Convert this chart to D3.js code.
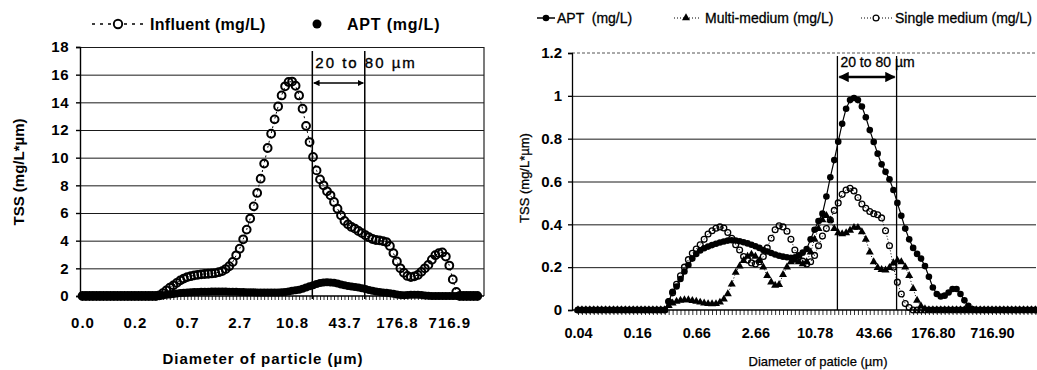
<!DOCTYPE html>
<html>
<head>
<meta charset="utf-8">
<script src="https://cdn.jsdelivr.net/npm/d3@7"></script>
<style>
  body { margin: 0; background: #fff; }
  svg { display: block; font-family: "Liberation Sans", Arial, sans-serif; }
</style>
</head>
<body>
<svg id="chart" width="1037" height="370"></svg>
<script>
// analyser size classes (um)
const diameters = [
  0.0401, 0.0440, 0.0483, 0.0530, 0.0582, 0.0639, 0.0701, 0.0770, 0.0845, 0.0928, 0.1018, 0.1118, 0.1227, 0.1347, 0.1479,
  0.1623, 0.1782, 0.1956, 0.2147, 0.2357, 0.2587, 0.2840, 0.3117, 0.3422, 0.3756, 0.4124, 0.4527, 0.4969, 0.5455, 0.5988,
  0.6573, 0.7215, 0.7920, 0.8695, 0.9544, 1.0477, 1.1501, 1.2625, 1.3859, 1.5213, 1.6700, 1.8332, 2.0123, 2.2090, 2.4249,
  2.6619, 2.9220, 3.2076, 3.5211, 3.8652, 4.2430, 4.6576, 5.1128, 5.6125, 6.1610, 6.7631, 7.4241, 8.1497, 8.9461, 9.8204,
  10.78, 11.834, 12.990, 14.260, 15.653, 17.183, 18.862, 20.706, 22.729, 24.951, 27.389, 30.066, 33.004, 36.229, 39.770,
  43.657, 47.923, 52.607, 57.749, 63.392, 69.587, 76.388, 83.853, 92.048, 101.04, 110.92, 121.76, 133.66, 146.72, 161.06,
  176.80, 194.08, 213.05, 233.87, 256.72, 281.81, 309.35, 339.59, 372.78, 409.21, 449.20, 493.10, 541.29, 594.19, 652.26,
  716.0, 786.0, 862.8, 947.1, 1039.7, 1141.3, 1252.8, 1375.3, 1509.7, 1657.2, 1819.2, 1997.0
];
const tickIndex = [0, 15, 30, 45, 60, 75, 90, 105];
const leftTickLabels = ['0.0', '0.2', '0.7', '2.7', '10.8', '43.7', '176.8', '716.9'];
const rightTickLabels = ['0.04', '0.16', '0.66', '2.66', '10.78', '43.66', '176.80', '716.90'];
const leftYTicks = [0, 2, 4, 6, 8, 10, 12, 14, 16, 18];
const rightYTicks = [0, 0.2, 0.4, 0.6, 0.8, 1, 1.2];
const rightYLabels = ['0', '0.2', '0.4', '0.6', '0.8', '1', '1.2'];
const bandLimits = [18.5, 75]; // the "20 to 80 um" lines

// left chart, influent (mg/L*um), 114 classes
const influent = [
  0, 0, 0, 0, 0, 0, 0, 0, 0, 0, 0, 0, 0, 0, 0, 0, 0, 0, 0, 0, 0, 0,
  0.05, 0.2, 0.4, 0.6, 0.77, 0.95, 1.13, 1.26, 1.37, 1.43, 1.49, 1.53, 1.57, 1.59, 1.61, 1.63, 1.66, 1.72, 1.8,
  1.95, 2.15, 2.46, 2.94, 3.42, 4.1, 4.8, 5.6, 6.48, 7.45, 8.48, 9.57, 10.7, 11.73, 12.77, 13.7, 14.5, 15.16, 15.47,
  15.5, 15.2, 14.5, 13.54, 12.3, 11.13, 10.05, 9.08, 8.43, 8.0, 7.57, 7.28, 6.8, 6.31, 5.83, 5.42, 5.18, 4.99, 4.87,
  4.7, 4.55, 4.39, 4.25, 4.12, 4.05, 4.02, 3.97, 3.9, 3.62, 3.1, 2.5, 2.0, 1.68, 1.45, 1.37, 1.42, 1.52, 1.75,
  2.0, 2.25, 2.62, 2.95, 3.1, 3.15, 2.85, 2.2, 1.2, 0.3,
  0, 0, 0, 0, 0, 0
];
// APT effluent, same in both charts
const apt = [
  0, 0, 0, 0, 0, 0, 0, 0, 0, 0, 0, 0, 0, 0, 0, 0, 0, 0, 0, 0, 0, 0, 0,
  0.04, 0.085, 0.11, 0.145, 0.18, 0.21, 0.24, 0.262, 0.278, 0.288, 0.296, 0.303, 0.309, 0.315, 0.32, 0.324, 0.326,
  0.324, 0.321, 0.316, 0.311, 0.305, 0.298, 0.29, 0.28, 0.273, 0.266, 0.259, 0.253, 0.249, 0.246, 0.244, 0.246,
  0.255, 0.268, 0.285, 0.33, 0.375, 0.415, 0.45, 0.53, 0.62, 0.7, 0.786, 0.87, 0.94, 0.98, 0.99, 0.98, 0.95, 0.9,
  0.84, 0.785, 0.73, 0.68, 0.645, 0.61, 0.56, 0.5, 0.44, 0.38, 0.33, 0.29, 0.262, 0.24, 0.205, 0.155, 0.105, 0.075,
  0.063, 0.067, 0.082, 0.098, 0.098, 0.075, 0.045, 0.02, 0.005,
  0, 0, 0, 0, 0, 0, 0, 0, 0, 0, 0, 0, 0, 0, 0, 0
];
const multiMedium = [
  0, 0, 0, 0, 0, 0, 0, 0, 0, 0, 0, 0, 0, 0, 0, 0, 0, 0, 0, 0, 0, 0, 0,
  0.02, 0.032, 0.04, 0.045, 0.047, 0.047, 0.044, 0.04, 0.036, 0.032, 0.029, 0.028, 0.029, 0.036, 0.05, 0.075, 0.12,
  0.175, 0.205, 0.23, 0.25, 0.26, 0.25, 0.23, 0.2, 0.16, 0.13, 0.115, 0.118, 0.165, 0.2, 0.225, 0.232, 0.225, 0.215,
  0.225, 0.27, 0.33, 0.38, 0.42, 0.44, 0.42, 0.38, 0.36, 0.355, 0.36, 0.372, 0.385, 0.385, 0.365, 0.33, 0.27, 0.225,
  0.198, 0.188, 0.186, 0.198, 0.22, 0.232, 0.225, 0.2, 0.16, 0.1, 0.045, 0.018, 0.005,
  0, 0, 0, 0, 0, 0, 0, 0, 0, 0, 0, 0, 0, 0, 0, 0, 0, 0, 0, 0, 0, 0, 0, 0, 0, 0, 0, 0
];
const singleMedium = [
  0, 0, 0, 0, 0, 0, 0, 0, 0, 0, 0, 0, 0, 0, 0, 0, 0, 0, 0, 0, 0, 0, 0,
  0.04, 0.08, 0.12, 0.16, 0.2, 0.235, 0.265, 0.285, 0.305, 0.33, 0.355, 0.37, 0.382, 0.388, 0.383, 0.362, 0.335,
  0.305, 0.28, 0.25, 0.233, 0.22, 0.215, 0.225, 0.25, 0.29, 0.335, 0.375, 0.393, 0.388, 0.368, 0.33, 0.28, 0.25,
  0.228, 0.215, 0.225, 0.255, 0.3, 0.345, 0.38, 0.42, 0.465, 0.5, 0.54, 0.56, 0.568, 0.556, 0.525, 0.495, 0.475,
  0.46, 0.45, 0.445, 0.43, 0.37, 0.3, 0.2, 0.13, 0.075, 0.03, 0.012,
  0, 0, 0, 0, 0, 0, 0, 0, 0, 0, 0, 0, 0, 0, 0, 0, 0, 0, 0, 0, 0, 0, 0, 0, 0, 0, 0, 0, 0, 0, 0, 0
];

const svg = d3.select('#chart');

svg.append('defs').append('marker')
    .attr('id', 'head')
    .attr('viewBox', '0 0 10 10')
    .attr('refX', 9).attr('refY', 5)
    .attr('markerWidth', 4).attr('markerHeight', 4)
    .attr('orient', 'auto-start-reverse')
  .append('path')
    .attr('d', 'M0,0L10,5L0,10Z')
    .attr('fill', '#000');

// ---------------- left chart ----------------
const lx = d3.scaleLog().domain([diameters[0], diameters[105]]).range([82.5, 449.3]);
const ly = d3.scaleLinear().domain([0, 18]).range([296, 47]);
const L = { left: 80, right: 484, top: 47, bottom: 296 };
const leftDiam = diameters.slice(0, influent.length);

const gl = svg.append('g').attr('font-weight', 'bold');

gl.append('g')
    .attr('transform', 'translate(' + L.left + ',0)')
    .call(d3.axisLeft(ly).tickValues(leftYTicks.slice(1)).tickSize(-(L.right - L.left)).tickFormat(''))
    .call(g => g.select('.domain').remove())
    .selectAll('line').attr('stroke', '#1a1a1a').attr('stroke-width', 1);

gl.append('line')
    .attr('x1', L.right).attr('x2', L.right).attr('y1', L.top).attr('y2', L.bottom)
    .attr('stroke', '#222').attr('stroke-width', 1.2);

gl.append('text')
    .attr('x', lx(bandLimits[0]) + 3).attr('y', 68)
    .attr('font-size', 15).attr('font-weight', 'normal').attr('letter-spacing', 2)
    .attr('stroke', '#000').attr('stroke-width', 0.35)
    .text('20 to 80 µm');

gl.selectAll('.band')
    .data(bandLimits).enter().append('line')
    .attr('x1', d => lx(d)).attr('x2', d => lx(d))
    .attr('y1', 51).attr('y2', L.bottom + 3)
    .attr('stroke', '#000').attr('stroke-width', 1.5);

gl.append('line')
    .attr('x1', lx(bandLimits[0]) + 1.5).attr('x2', lx(bandLimits[1]) - 1.5)
    .attr('y1', 83).attr('y2', 83)
    .attr('stroke', '#000').attr('stroke-width', 1.6)
    .attr('marker-start', 'url(#head)').attr('marker-end', 'url(#head)');

// category tick marks
gl.append('g')
    .attr('transform', 'translate(0,' + L.bottom + ')')
    .call(d3.axisBottom(lx).tickValues(leftDiam).tickSize(4).tickFormat(''))
    .call(g => g.select('.domain').remove())
    .selectAll('line').attr('stroke', '#000').attr('stroke-width', 0.8);

gl.append('path')
    .datum(influent)
    .attr('fill', 'none').attr('stroke', '#000').attr('stroke-width', 1).attr('stroke-dasharray', '2,3')
    .attr('d', d3.line().x((d, i) => lx(leftDiam[i])).y(d => ly(d)));

gl.selectAll('.inf')
    .data(influent).enter().append('circle')
    .attr('cx', (d, i) => lx(leftDiam[i])).attr('cy', d => ly(d))
    .attr('r', 3.9).attr('fill', 'none').attr('stroke', '#000').attr('stroke-width', 2);

gl.selectAll('.aptl')
    .data(apt.slice(0, leftDiam.length)).enter().append('circle')
    .attr('cx', (d, i) => lx(leftDiam[i])).attr('cy', d => ly(d))
    .attr('r', 4).attr('fill', '#000');

const lyAxis = gl.append('g')
    .attr('transform', 'translate(' + L.left + ',0)')
    .call(d3.axisLeft(ly).tickValues(leftYTicks).tickSize(4).tickPadding(7).tickFormat(d3.format('d')));
lyAxis.selectAll('text').attr('font-size', 15).attr('font-family', null).attr('letter-spacing', 0.5);
lyAxis.selectAll('path,line').attr('stroke', '#000').attr('stroke-width', 1.4);

const lxAxis = gl.append('g')
    .attr('transform', 'translate(0,' + L.bottom + ')')
    .call(d3.axisBottom(lx).tickValues(tickIndex.map(i => diameters[i])).tickSize(0)
      .tickFormat((d, i) => leftTickLabels[i]));
lxAxis.select('.domain').attr('d', 'M' + L.left + ',0H' + L.right).attr('stroke', '#000').attr('stroke-width', 1.4);
lxAxis.selectAll('text').attr('y', 21).attr('font-size', 15).attr('font-family', null).attr('letter-spacing', 1);

gl.append('text')
    .attr('transform', 'translate(23.5,172) rotate(-90)')
    .attr('text-anchor', 'middle').attr('font-size', 15)
    .text('TSS (mg/L*µm)');

gl.append('text')
    .attr('x', 263).attr('y', 364)
    .attr('text-anchor', 'middle').attr('font-size', 15).attr('letter-spacing', 1)
    .text('Diameter of particle (µm)');

// legend
gl.append('line')
    .attr('x1', 92).attr('x2', 146).attr('y1', 24).attr('y2', 24)
    .attr('stroke', '#000').attr('stroke-width', 1.4).attr('stroke-dasharray', '3,5');
gl.append('circle')
    .attr('cx', 118).attr('cy', 24).attr('r', 4.2)
    .attr('fill', '#fff').attr('stroke', '#000').attr('stroke-width', 1.9);
gl.append('text')
    .attr('x', 150).attr('y', 29.5).attr('font-size', 16).attr('letter-spacing', 0.3)
    .text('Influent (mg/L)');
gl.append('circle')
    .attr('cx', 317).attr('cy', 24).attr('r', 4.5).attr('fill', '#000');
gl.append('text')
    .attr('x', 347).attr('y', 29.5).attr('font-size', 16).attr('letter-spacing', 0.8)
    .text('APT (mg/L)');

// ---------------- right chart ----------------
const rx = d3.scaleLog().domain([diameters[0], diameters[105]]).range([578, 992]);
const ry = d3.scaleLinear().domain([0, 1.2]).range([310, 53]);
const R = { left: 572, right: 1036, top: 53, bottom: 310 };

const gr = svg.append('g');

gr.append('g')
    .attr('transform', 'translate(' + R.left + ',0)')
    .call(d3.axisLeft(ry).tickValues(rightYTicks.slice(1, -1)).tickSize(-(R.right - R.left)).tickFormat(''))
    .call(g => g.select('.domain').remove())
    .selectAll('line').attr('stroke', '#1a1a1a').attr('stroke-width', 1);

gr.append('line')
    .attr('x1', R.left).attr('x2', R.right).attr('y1', R.top).attr('y2', R.top)
    .attr('stroke', '#555').attr('stroke-width', 1).attr('stroke-dasharray', '3,2');

gr.append('text')
    .attr('x', rx(bandLimits[0]) + 3).attr('y', 66.5)
    .attr('font-size', 14).attr('stroke', '#000').attr('stroke-width', 0.3)
    .text('20 to 80 µm');

gr.selectAll('.band')
    .data(bandLimits).enter().append('line')
    .attr('x1', d => rx(d)).attr('x2', d => rx(d))
    .attr('y1', 56).attr('y2', R.bottom)
    .attr('stroke', '#000').attr('stroke-width', 1.3);

gr.append('line')
    .attr('x1', rx(bandLimits[0]) + 2).attr('x2', rx(bandLimits[1]) - 2)
    .attr('y1', 77).attr('y2', 77)
    .attr('stroke', '#000').attr('stroke-width', 2.6)
    .attr('marker-start', 'url(#head)').attr('marker-end', 'url(#head)');

gr.append('g')
    .attr('transform', 'translate(0,' + R.bottom + ')')
    .call(d3.axisBottom(rx).tickValues(diameters).tickSize(5).tickFormat(''))
    .call(g => g.select('.domain').remove())
    .selectAll('line').attr('stroke', '#000').attr('stroke-width', 0.8);

const rline = d3.line().x((d, i) => rx(diameters[i])).y(d => ry(d));

gr.append('path').datum(apt)
    .attr('fill', 'none').attr('stroke', '#000').attr('stroke-width', 1.2).attr('d', rline);
gr.append('path').datum(multiMedium)
    .attr('fill', 'none').attr('stroke', '#000').attr('stroke-width', 1).attr('stroke-dasharray', '1,2').attr('d', rline);
gr.append('path').datum(singleMedium)
    .attr('fill', 'none').attr('stroke', '#000').attr('stroke-width', 1).attr('stroke-dasharray', '1,2').attr('d', rline);

gr.selectAll('.aptr')
    .data(apt).enter().append('circle')
    .attr('cx', (d, i) => rx(diameters[i])).attr('cy', d => ry(d))
    .attr('r', 3.3).attr('fill', '#000');

gr.selectAll('.mm')
    .data(multiMedium).enter().append('path')
    .attr('transform', (d, i) => 'translate(' + rx(diameters[i]) + ',' + ry(d) + ')')
    .attr('d', d3.symbol(d3.symbolTriangle, 28))
    .attr('fill', '#000');

gr.selectAll('.sm')
    .data(singleMedium).enter().append('circle')
    .attr('cx', (d, i) => rx(diameters[i])).attr('cy', d => ry(d))
    .attr('r', 2.9).attr('fill', 'none').attr('stroke', '#000').attr('stroke-width', 1.3);

const ryAxis = gr.append('g')
    .attr('transform', 'translate(' + R.left + ',0)')
    .call(d3.axisLeft(ry).tickValues(rightYTicks).tickSize(4).tickPadding(6)
      .tickFormat((d, i) => rightYLabels[i]));
ryAxis.selectAll('text').attr('font-size', 15).attr('font-family', null).attr('font-weight', 'bold');
ryAxis.selectAll('path,line').attr('stroke', '#000').attr('stroke-width', 1.3);

const rxAxis = gr.append('g')
    .attr('transform', 'translate(0,' + R.bottom + ')')
    .call(d3.axisBottom(rx).tickValues(tickIndex.map(i => diameters[i])).tickSize(0)
      .tickFormat((d, i) => rightTickLabels[i]));
rxAxis.select('.domain').attr('d', 'M' + R.left + ',0H' + R.right).attr('stroke', '#000').attr('stroke-width', 1.3);
rxAxis.selectAll('text').attr('y', 18).attr('font-size', 14.5).attr('font-family', null).attr('font-weight', 'bold');

gr.append('text')
    .attr('transform', 'translate(529,178) rotate(-90)')
    .attr('text-anchor', 'middle').attr('font-size', 13)
    .attr('stroke', '#000').attr('stroke-width', 0.3)
    .text('TSS (mg/L*µm)');

gr.append('text')
    .attr('x', 818).attr('y', 366)
    .attr('text-anchor', 'middle').attr('font-size', 13)
    .attr('stroke', '#000').attr('stroke-width', 0.25)
    .text('Diameter of paticle (µm)');

// legend
const legR = gr.append('g').attr('font-size', 14).attr('stroke-width', 0.3);
legR.append('line')
    .attr('x1', 537).attr('x2', 555).attr('y1', 18).attr('y2', 18)
    .attr('stroke', '#000').attr('stroke-width', 1.5);
legR.append('circle').attr('cx', 546).attr('cy', 18).attr('r', 3.3).attr('fill', '#000');
legR.append('text').attr('x', 557).attr('y', 23).attr('stroke', '#000')
    .style('white-space', 'pre').text('APT  (mg/L)');

legR.append('line')
    .attr('x1', 674).attr('x2', 700).attr('y1', 18).attr('y2', 18)
    .attr('stroke', '#000').attr('stroke-width', 1).attr('stroke-dasharray', '1,2');
legR.append('path').attr('transform', 'translate(686,18)')
    .attr('d', d3.symbol(d3.symbolTriangle, 28)).attr('fill', '#000');
legR.append('text').attr('x', 705).attr('y', 23).attr('stroke', '#000').text('Multi-medium (mg/L)');

legR.append('line')
    .attr('x1', 861).attr('x2', 892).attr('y1', 18).attr('y2', 18)
    .attr('stroke', '#000').attr('stroke-width', 1).attr('stroke-dasharray', '1,2');
legR.append('circle').attr('cx', 876).attr('cy', 18).attr('r', 2.9)
    .attr('fill', '#fff').attr('stroke', '#000').attr('stroke-width', 1.2);
legR.append('text').attr('x', 895).attr('y', 23).attr('stroke', '#000').text('Single medium (mg/L)');
</script>
</body>
</html>
